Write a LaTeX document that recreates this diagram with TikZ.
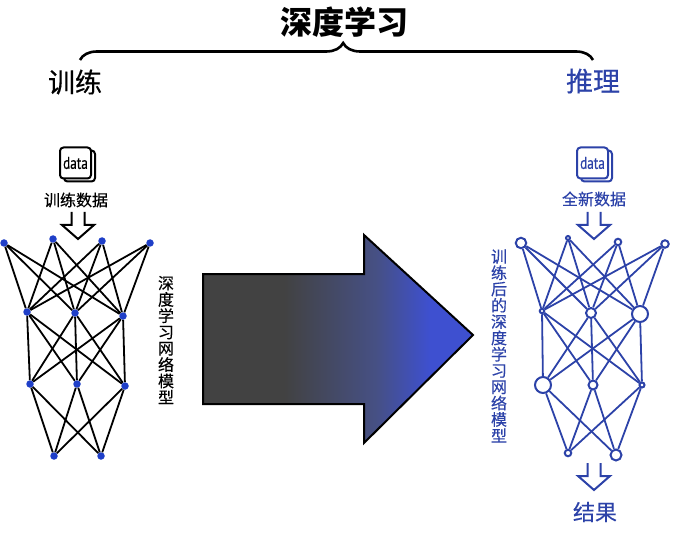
\documentclass[tikz,border=0pt]{standalone}
\usepackage{fontspec}
\setmainfont[FakeBold=0.35]{Noto Sans CJK SC}
\newfontfamily\titlefont{Noto Sans CJK SC}
\newfontfamily\datafont[FakeBold=0.3]{PT Sans}
\usetikzlibrary{decorations.pathreplacing}

\definecolor{netblue}{HTML}{2C42A8}
\definecolor{netdot}{HTML}{1F3FC8}
\definecolor{arrowgray}{HTML}{424242}
\definecolor{arrowmid}{HTML}{465084}
\definecolor{arrowblue}{HTML}{3E50D0}
\pgfdeclarehorizontalshading{trainshade}{100bp}{color(0bp)=(arrowgray); color(40bp)=(arrowgray); color(57bp)=(arrowmid); color(67bp)=(arrowblue); color(100bp)=(arrowblue)}

\tikzset{
  link/.style={line width=1.8pt},
  dotnode/.style={circle, fill=netdot, inner sep=0pt, minimum size=7.5pt},
  ringnode/.style={circle, draw=netblue, fill=white, line width=2pt, inner sep=0pt, minimum size=#1},
  databox/.style={draw, fill=white, rounded corners=3.5pt, line width=2pt, inner sep=0pt,
    minimum width=31pt, minimum height=31pt, font=\datafont\fontsize{17}{17}\selectfont},
  hollow/.style={line width=2pt, line join=miter},
  label/.style={inner sep=0pt, align=center},
}

\begin{document}
\begin{tikzpicture}[x=1pt, y=-1pt]
  \useasboundingbox (0,0) rectangle (674,537);

  % title and brace
  \node[label, font=\titlefont\fontsize{32}{32}\selectfont\bfseries] (title) at (344,22) {深度学习};
  \coordinate (braceL) at (80,60);
  \coordinate (braceR) at (593,60);
  \draw[line width=2.6pt, decorate, decoration={brace, amplitude=17pt, aspect=0.513}] (braceL) -- (braceR);
  \node[label, font=\fontsize{27}{27}\selectfont] (train) at (75,82) {训练};
  \node[label, font=\fontsize{27}{27}\selectfont, text=netblue] (infer) at (593,81) {推理};

  % data icons
  \node[databox] (trainback) at (79.5,166) {};
  \node[databox] (traindata) at (75.5,163) {\scalebox{0.78}[1]{data}};
  \node[databox, draw=netblue] (inferback) at (596.5,166) {};
  \node[databox, draw=netblue, text=netblue] (inferdata) at (592.5,163) {\scalebox{0.78}[1]{data}};
  \node[label, font=\fontsize{16}{16}\selectfont] (trainset) at (76,200) {训练数据};
  \node[label, font=\fontsize{16}{16}\selectfont, text=netblue] (inferset) at (594,199) {全新数据};

  % hollow arrows, the point is at the end of each
  \foreach \x/\y/\c in {78/239/black, 594/239/netblue, 594/490/netblue}
    \draw[hollow, draw=\c] (\x-6.5,\y-27) -- (\x-6.5,\y-14) -- (\x-16,\y-14) -- (\x,\y)
      -- (\x+16,\y-14) -- (\x+6.5,\y-14) -- (\x+6.5,\y-27);

  % left network
  \foreach \name/\x/\y in {a1/4/243, a2/53/239, a3/102/241, a4/150/243,
                           b1/27/312, b2/75/313, b3/123/316,
                           c1/30/384, c2/77/384, c3/125/386,
                           d1/54/456, d2/101/456}
    \node[dotnode] (\name) at (\x,\y) {};
  \foreach \from in {a1,a2,a3,a4} \foreach \to in {b1,b2,b3} \draw[link] (\from) -- (\to);
  \foreach \from in {b1,b2,b3} \foreach \to in {c1,c2,c3} \draw[link] (\from) -- (\to);
  \foreach \from in {c1,c2,c3} \foreach \to in {d1,d2} \draw[link] (\from) -- (\to);

  % right network, ring size differs per node
  \foreach \name/\x/\y/\s in {p1/521/243/10.5pt, p2/568/238/4pt, p3/618/242/6.5pt, p4/665/244/7.5pt,
                              q1/542/311/4.5pt, q2/591/313/10pt, q3/640/314/16pt,
                              r1/543/385/16pt, r2/593/385/9pt, r3/642/385/5pt,
                              s1/568/453/6.5pt, s2/616/455/11pt}
    \node[ringnode=\s] (\name) at (\x,\y) {};
  \foreach \from in {p1,p2,p3,p4} \foreach \to in {q1,q2,q3} \draw[link, netblue] (\from) -- (\to);
  \foreach \from in {q1,q2,q3} \foreach \to in {r1,r2,r3} \draw[link, netblue] (\from) -- (\to);
  \foreach \from in {r1,r2,r3} \foreach \to in {s1,s2} \draw[link, netblue] (\from) -- (\to);

  % side labels
  \node[label, font=\fontsize{16}{16.3}\selectfont] (trainmodel) at (166,340)
    {深\\度\\学\\习\\网\\络\\模\\型};
  \node[label, font=\fontsize{16}{16.3}\selectfont, text=netblue] (infermodel) at (499,346)
    {训\\练\\后\\的\\深\\度\\学\\习\\网\\络\\模\\型};
  \node[label, font=\fontsize{22}{22}\selectfont, text=netblue] (result) at (595,512) {结果};

  % big arrow
  \path[shading=trainshade] (203,274) -- (364,274) -- (364,235) -- (473,335) -- (364,443) -- (364,404) -- (203,404) -- cycle;
  \draw[line width=2pt, line join=miter]
    (203,274) -- (364,274) -- (364,235) -- (473,335) -- (364,443) -- (364,404) -- (203,404) -- cycle;
\end{tikzpicture}
\end{document}
